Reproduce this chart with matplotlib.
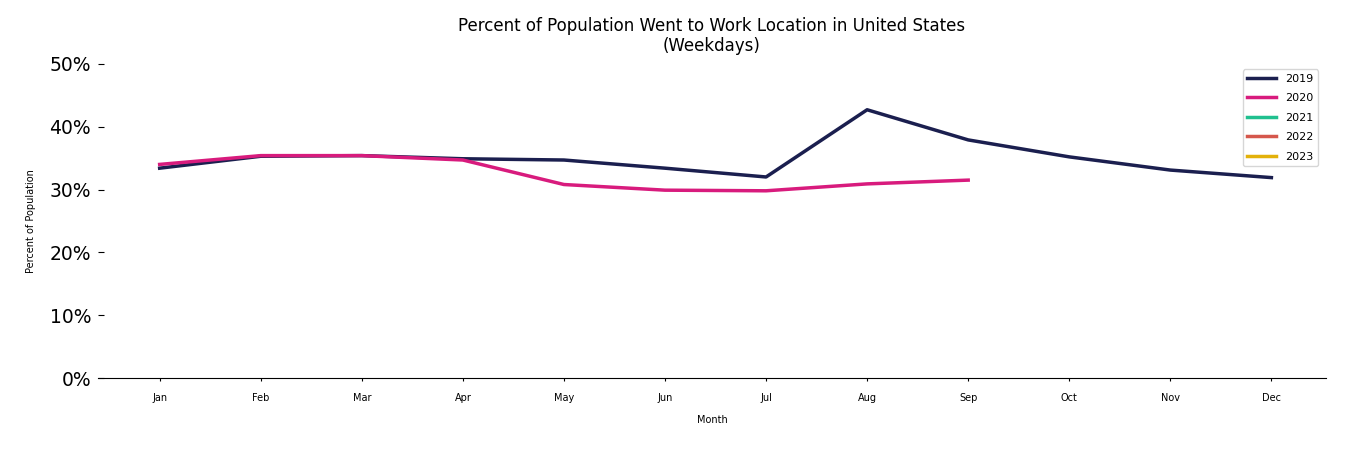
import matplotlib
matplotlib.use("Agg")
import matplotlib.pyplot as plt
from matplotlib.ticker import PercentFormatter

# Data (percent of population, weekdays)
months = ["Jan", "Feb", "Mar", "Apr", "May", "Jun",
          "Jul", "Aug", "Sep", "Oct", "Nov", "Dec"]
pct_2019 = [33.4, 35.3, 35.4, 34.9, 34.7, 33.4,
            32.0, 42.7, 37.9, 35.2, 33.1, 31.9]
pct_2020 = [34.0, 35.4, 35.4, 34.7, 30.8, 29.9,
            29.8, 30.9, 31.5]
pct_2021 = []
pct_2022 = []
pct_2023 = []

years = ["2019", "2020", "2021", "2022", "2023"]
series = [pct_2019, pct_2020, pct_2021, pct_2022, pct_2023]
colors = ["#1b1f4f", "#d81b7d", "#20c08f", "#d5574c", "#e3b10a"]

fig = plt.figure(figsize=(13.5, 4.5), dpi=100)
ax = fig.add_axes([0.0726, 0.16, 0.9096, 0.698])

for year, vals, col in zip(years, series, colors):
    ax.plot(range(len(vals)), [v / 100 for v in vals], color=col,
            linewidth=2.5, label=year)

ax.set_xlim(-0.61, 11.54)
ax.set_ylim(0, 0.5)
ax.set_xticks(range(len(months)))
ax.set_xticklabels(months, fontsize=7)
ax.set_yticks([0, 0.1, 0.2, 0.3, 0.4, 0.5])
ax.yaxis.set_major_formatter(PercentFormatter(1.0, decimals=0))
ax.tick_params(axis="y", labelsize=13.5, direction="in", length=4.5, pad=5)
ax.tick_params(axis="x", length=2.5, pad=8)

for side in ["top", "right", "left"]:
    ax.spines[side].set_visible(False)

ax.set_xlabel("Month", fontsize=7, labelpad=9)
ax.set_ylabel("Percent of Population", fontsize=7, labelpad=10)
ax.set_title("Percent of Population Went to Work Location in United States\n"
             "(Weekdays)", fontsize=12, pad=9)
ax.legend(loc="upper right", fontsize=8, handlelength=2.6,
          labelspacing=0.85, bbox_to_anchor=(0.998, 1.0))

fig.savefig("out.png")
plt.close(fig)
